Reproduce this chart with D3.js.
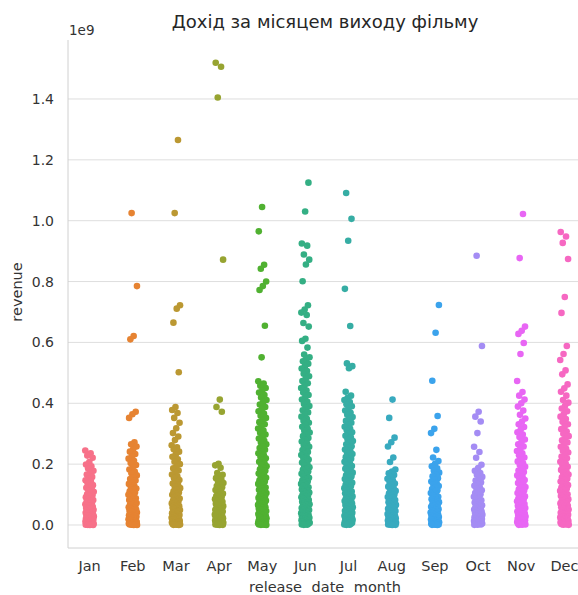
<!DOCTYPE html>
<html>
<head>
<meta charset="utf-8">
<script src="https://cdn.jsdelivr.net/npm/d3@7"></script>
<style>
  body { margin: 0; background: #fff; }
  svg { display: block; font-family: "DejaVu Sans", sans-serif; }
</style>
</head>
<body>
<svg id="StripChart"></svg>
<script>
// revenue per film, in millions of dollars, grouped by release month
const months = ["Jan", "Feb", "Mar", "Apr", "May", "Jun", "Jul", "Aug", "Sep", "Oct", "Nov", "Dec"];

const jan = [245, 236, 228, 221, 207, 199, 193, 186, 178, 171, 166, 158, 152, 147, 143, 137, 131, 127, 122, 118, 113, 109, 106, 101, 98, 95, 91, 88, 85, 82, 79, 76, 73, 71, 68, 65, 63, 60, 58, 56, 54, 52, 50, 48, 46, 44, 42, 40, 39, 37, 35, 34, 32, 31, 29, 28, 26, 25, 23, 22, 21, 19, 18, 17, 15, 14, 13, 12, 11, 10, 9, 8, 7, 6, 5, 4.5, 4, 3, 2.5, 2, 1.5, 1, 0.8, 0.5, 0.3, 0.1];
const feb = [1025, 785, 621, 610, 372, 364, 352, 272, 265, 258, 249, 241, 233, 226, 218, 211, 204, 197, 189, 182, 176, 170, 163, 157, 151, 146, 140, 135, 129, 124, 120, 116, 111, 107, 103, 99, 95, 92, 88, 85, 82, 78, 75, 72, 69, 66, 64, 61, 58, 56, 53, 51, 49, 47, 45, 43, 41, 39, 37, 35, 33, 32, 30, 28, 27, 25, 24, 22, 21, 19, 18, 17, 15, 14, 13, 12, 11, 10, 9, 8, 7, 6, 5, 4, 3.5, 3, 2, 1.5, 1, 0.6, 0.3, 0.1];
const mar = [1265, 1025, 722, 711, 665, 502, 388, 378, 368, 352, 336, 318, 302, 291, 279, 262, 255, 249, 241, 232, 224, 216, 208, 200, 193, 186, 179, 172, 166, 160, 154, 148, 142, 136, 131, 126, 121, 116, 111, 107, 103, 99, 95, 91, 87, 84, 80, 77, 74, 71, 68, 65, 62, 59, 57, 54, 52, 49, 47, 45, 43, 41, 39, 37, 35, 33, 31, 29, 28, 26, 24, 23, 21, 20, 18, 17, 16, 14, 13, 12, 11, 10, 9, 8, 7, 6, 5, 4, 3, 2.5, 2, 1.5, 1, 0.5, 0.2];
const apr = [1519, 1506, 1405, 872, 412, 388, 372, 201, 196, 188, 171, 165, 160, 154, 149, 143, 138, 133, 128, 124, 119, 115, 111, 107, 103, 99, 95, 92, 88, 85, 82, 79, 76, 73, 70, 67, 64, 62, 59, 57, 54, 52, 50, 48, 46, 44, 42, 40, 38, 36, 34, 33, 31, 29, 28, 26, 25, 23, 22, 20, 19, 18, 16, 15, 14, 13, 12, 11, 10, 9, 8, 7, 6, 5, 4, 3, 2, 1.5, 1, 0.5, 0.2];
const may = [1045, 965, 855, 842, 800, 785, 772, 655, 551, 472, 465, 458, 450, 443, 435, 427, 419, 411, 404, 396, 388, 381, 374, 366, 359, 352, 345, 338, 331, 324, 317, 310, 303, 297, 290, 284, 277, 271, 265, 259, 253, 247, 241, 236, 230, 224, 219, 214, 208, 203, 198, 193, 188, 183, 178, 173, 169, 164, 160, 155, 151, 147, 143, 139, 135, 131, 127, 123, 119, 116, 112, 109, 105, 102, 99, 95, 92, 89, 86, 83, 80, 77, 74, 71, 69, 66, 63, 61, 58, 56, 53, 51, 49, 46, 44, 42, 40, 38, 36, 34, 32, 30, 28, 27, 25, 23, 22, 20, 19, 17, 16, 14, 13, 12, 11, 10, 9, 8, 7, 6, 5, 4, 3, 2, 1.5, 1, 0.5, 0.2];
const jun = [1125, 1030, 925, 918, 889, 872, 856, 801, 722, 708, 698, 690, 664, 652, 612, 605, 583, 560, 551, 545, 538, 530, 522, 514, 506, 497, 489, 481, 473, 466, 458, 450, 442, 435, 427, 420, 412, 405, 398, 391, 384, 377, 370, 363, 356, 349, 342, 336, 329, 323, 316, 310, 304, 298, 292, 286, 280, 274, 268, 262, 257, 251, 246, 240, 235, 230, 225, 220, 215, 210, 205, 200, 195, 190, 185, 181, 176, 172, 168, 163, 159, 155, 151, 147, 143, 139, 135, 131, 128, 124, 120, 117, 113, 110, 107, 103, 100, 97, 94, 91, 88, 85, 82, 79, 76, 74, 71, 68, 66, 63, 61, 58, 56, 54, 51, 49, 47, 45, 43, 41, 39, 37, 35, 33, 31, 29, 27, 26, 24, 22, 21, 19, 18, 16, 15, 13, 12, 11, 10, 9, 8, 7, 6, 5, 4, 3, 2, 1, 0.5];
const jul = [1091, 1006, 934, 776, 654, 531, 522, 515, 438, 425, 418, 411, 404, 397, 390, 383, 376, 369, 362, 355, 349, 342, 336, 330, 323, 317, 311, 305, 299, 293, 288, 282, 276, 270, 265, 259, 254, 248, 243, 238, 233, 228, 223, 218, 213, 208, 203, 198, 194, 189, 185, 180, 176, 172, 167, 163, 159, 155, 151, 147, 143, 139, 135, 132, 128, 124, 121, 117, 114, 110, 107, 104, 101, 97, 94, 91, 88, 85, 82, 79, 77, 74, 71, 68, 66, 63, 61, 58, 56, 53, 51, 49, 47, 44, 42, 40, 38, 36, 34, 32, 30, 28, 26, 25, 23, 21, 20, 18, 17, 15, 14, 12, 11, 10, 9, 8, 7, 6, 5, 4, 3, 2, 1, 0.5];
const aug = [412, 352, 287, 272, 258, 222, 207, 182, 176, 170, 164, 158, 152, 147, 141, 136, 131, 126, 121, 117, 112, 108, 104, 100, 96, 92, 89, 85, 82, 78, 75, 72, 69, 66, 63, 60, 58, 55, 53, 50, 48, 46, 44, 42, 40, 38, 36, 34, 32, 30, 29, 27, 25, 24, 22, 21, 19, 18, 17, 15, 14, 13, 12, 11, 10, 9, 8, 7, 6, 5, 4, 3, 2, 1.5, 1, 0.5, 0.2];
const sep = [723, 632, 474, 358, 316, 302, 247, 222, 210, 201, 193, 186, 178, 172, 166, 160, 154, 149, 143, 138, 133, 128, 123, 118, 114, 109, 105, 101, 97, 93, 89, 85, 82, 78, 75, 72, 69, 66, 63, 60, 57, 55, 52, 50, 47, 45, 43, 41, 39, 37, 35, 33, 31, 29, 27, 26, 24, 22, 21, 19, 18, 17, 15, 14, 13, 12, 11, 10, 9, 8, 7, 6, 5, 4, 3, 2, 1.5, 1, 0.5, 0.2];
const oct = [885, 588, 372, 356, 340, 302, 257, 240, 221, 198, 187, 178, 171, 165, 158, 152, 146, 140, 135, 129, 124, 119, 114, 110, 105, 101, 97, 93, 89, 85, 81, 78, 74, 71, 68, 65, 62, 59, 56, 54, 51, 49, 46, 44, 42, 40, 38, 36, 34, 32, 30, 28, 26, 25, 23, 22, 20, 19, 17, 16, 15, 13, 12, 11, 10, 9, 8, 7, 6, 5, 4, 3, 2, 1, 0.5];
const nov = [1022, 877, 652, 638, 628, 598, 562, 473, 437, 425, 412, 400, 389, 376, 362, 350, 340, 331, 322, 314, 305, 297, 289, 281, 273, 265, 258, 250, 243, 236, 229, 222, 216, 209, 203, 197, 191, 185, 179, 174, 168, 163, 158, 153, 148, 143, 138, 134, 129, 125, 121, 117, 113, 109, 105, 101, 98, 94, 91, 87, 84, 81, 78, 75, 72, 69, 66, 63, 61, 58, 56, 53, 51, 48, 46, 44, 42, 40, 38, 36, 34, 32, 30, 28, 27, 25, 23, 22, 20, 19, 17, 16, 15, 13, 12, 11, 10, 9, 8, 7, 6, 5, 4, 3, 2, 1, 0.5];
const dec = [963, 948, 927, 874, 749, 697, 588, 562, 542, 508, 495, 462, 449, 438, 425, 411, 402, 392, 383, 374, 365, 356, 348, 339, 331, 323, 315, 307, 300, 292, 285, 278, 271, 264, 257, 250, 244, 238, 231, 225, 219, 213, 208, 202, 197, 191, 186, 181, 176, 171, 166, 161, 157, 152, 148, 143, 139, 135, 131, 127, 123, 119, 115, 112, 108, 105, 101, 98, 95, 91, 88, 85, 82, 79, 76, 73, 71, 68, 65, 63, 60, 58, 55, 53, 51, 48, 46, 44, 42, 40, 38, 36, 34, 32, 30, 28, 27, 25, 23, 22, 20, 19, 17, 16, 15, 13, 12, 11, 10, 9, 8, 7, 6, 5, 4, 3, 2, 1, 0.5];

const revenueByMonth = [jan, feb, mar, apr, may, jun, jul, aug, sep, oct, nov, dec];
const yTicks = [0, 0.2e9, 0.4e9, 0.6e9, 0.8e9, 1.0e9, 1.2e9, 1.4e9];

// seaborn's "husl" palette, computed the same way the old husl package does it
function huslPalette(n, h = 0.01, s = 0.9, l = 0.65) {
    const m = [[3.2406, -1.5372, -0.4986], [-0.9689, 1.8758, 0.0415], [0.0557, -0.2040, 1.0570]];
    const refU = 0.19784, refV = 0.46834, kappa = 903.2962962962963;

    function maxChroma(L, H) {
        const hrad = H / 180 * Math.PI, sinH = Math.sin(hrad), cosH = Math.cos(hrad);
        const sub1 = Math.pow(L + 16, 3) / 1560896;
        const sub2 = sub1 > 0.008856 ? sub1 : L / 903.3;
        let result = Infinity;
        for (const [m1, m2, m3] of m) {
            const top = (0.99915 * m1 + 1.05122 * m2 + 1.14460 * m3) * sub2;
            const rbottom = 0.86330 * m3 - 0.17266 * m2;
            const lbottom = 0.12949 * m3 - 0.38848 * m1;
            const bottom = (rbottom * sinH + lbottom * cosH) * sub2;
            for (const t of [0, 1]) {
                const C = L * (top - 1.05122 * t) / (bottom + 0.17266 * sinH * t);
                if (C > 0 && C < result) result = C;
            }
        }
        return result;
    }

    function toRgb(H, S, L) {
        const C = maxChroma(L, H) / 100 * S;
        const hrad = H / 180 * Math.PI;
        const U = Math.cos(hrad) * C, V = Math.sin(hrad) * C;
        const Y = L > 8 ? Math.pow((L + 16) / 116, 3) : L / kappa;
        const varU = U / (13 * L) + refU, varV = V / (13 * L) + refV;
        const X = -(9 * Y * varU) / ((varU - 4) * varV - varU * varV);
        const Z = (9 * Y - 15 * varV * Y - varV * X) / (3 * varV);
        const rgb = m.map(r => {
            const c = r[0] * X + r[1] * Y + r[2] * Z;
            const v = c <= 0.0031308 ? 12.92 * c : 1.055 * Math.pow(c, 1 / 2.4) - 0.055;
            return Math.round(Math.max(0, Math.min(1, v)) * 255);
        });
        return d3.rgb(rgb[0], rgb[1], rgb[2]).formatHex();
    }

    return d3.range(n).map(i => toRgb((((i / n) + h) % 1) * 359, s * 99, l * 99));
}

class StripChart {
    constructor(width, height) {
        this.svg = d3.select("#StripChart")
            .attr("width", width)
            .attr("height", height);
        this.margin = { left: 68, right: 586, top: 40, bottom: 548 };

        this.initScales();
        this.plotGrid();
        this.plotPoints();
        this.plotAxes();
        this.plotText();
    }

    initScales() {
        this.x = d3.scaleBand()
            .domain(months)
            .range([this.margin.left, this.margin.right])
            .padding(0);
        this.y = d3.scaleLinear()
            .domain([-0.0756e9, 1.5938e9])
            .range([this.margin.bottom, this.margin.top]);
        this.color = d3.scaleOrdinal(months, huslPalette(months.length));
    }

    plotGrid() {
        this.svg.append("g")
            .attr("class", "grid")
            .selectAll("line")
            .data(yTicks)
            .join("line")
            .attr("x1", this.margin.left)
            .attr("x2", this.margin.right)
            .attr("y1", d => this.y(d))
            .attr("y2", d => this.y(d))
            .attr("stroke", "#dedede")
            .attr("stroke-width", 1);
    }

    plotPoints() {
        let x = this.x, y = this.y, color = this.color;
        const bw = x.bandwidth();
        // stripplot jitter of +-0.1 category widths, spread with a golden-ratio sequence
        const points = [];
        revenueByMonth.forEach((values, mi) => {
            values.forEach((v, i) => {
                const u = ((i * 0.6180339887 + mi * 0.37) % 1) * 2 - 1;
                points.push({ month: months[mi], revenue: v * 1e6, jitter: u * 0.1 * bw });
            });
        });

        this.svg.append("g")
            .attr("class", "points")
            .selectAll("circle")
            .data(points)
            .join("circle")
            .attr("cx", d => x(d.month) + bw / 2 + d.jitter)
            .attr("cy", d => y(d.revenue))
            .attr("r", 3.3)
            .attr("fill", d => color(d.month));
    }

    plotAxes() {
        const yAxis = d3.axisLeft(this.y)
            .tickValues(yTicks)
            .tickSize(0)
            .tickPadding(14)
            .tickFormat(d => (d / 1e9).toFixed(1));
        const gy = this.svg.append("g")
            .attr("transform", `translate(${this.margin.left},0)`)
            .call(yAxis);
        gy.select(".domain").remove();
        gy.selectAll("text")
            .style("font-family", "DejaVu Sans, sans-serif")
            .style("font-size", "14px")
            .attr("fill", "#333");

        const xAxis = d3.axisBottom(this.x).tickSize(0).tickPadding(13);
        const gx = this.svg.append("g")
            .attr("transform", `translate(0,${this.margin.bottom})`)
            .call(xAxis);
        gx.select(".domain").remove();
        gx.selectAll("text")
            .style("font-family", "DejaVu Sans, sans-serif")
            .style("font-size", "14.5px")
            .attr("fill", "#333");

        // left and bottom spines
        this.svg.append("line")
            .attr("x1", this.margin.left).attr("x2", this.margin.left)
            .attr("y1", this.margin.top).attr("y2", this.margin.bottom)
            .attr("stroke", "#d0d0d0");
        this.svg.append("line")
            .attr("x1", this.margin.left).attr("x2", this.margin.right)
            .attr("y1", this.margin.bottom).attr("y2", this.margin.bottom)
            .attr("stroke", "#d0d0d0");
    }

    plotText() {
        this.svg.append("text")
            .text("1e9")
            .attr("x", this.margin.left + 1)
            .attr("y", 35)
            .style("font-size", "13.5px")
            .attr("fill", "#333");
        this.svg.append("text")
            .text("Дохід за місяцем виходу фільму")
            .attr("x", 325)
            .attr("y", 28)
            .attr("text-anchor", "middle")
            .style("font-size", "18px")
            .attr("fill", "#262626");
        this.svg.append("text")
            .text("revenue")
            .attr("transform", "translate(22,292) rotate(-90)")
            .attr("text-anchor", "middle")
            .style("font-size", "14.5px")
            .attr("fill", "#333");
        this.svg.append("text")
            .text("release date month")
            .attr("x", 325)
            .attr("y", 592)
            .attr("text-anchor", "middle")
            .style("font-size", "14.5px")
            .style("word-spacing", "5px")
            .attr("fill", "#333");
    }
}

new StripChart(578, 595);
</script>
</body>
</html>
